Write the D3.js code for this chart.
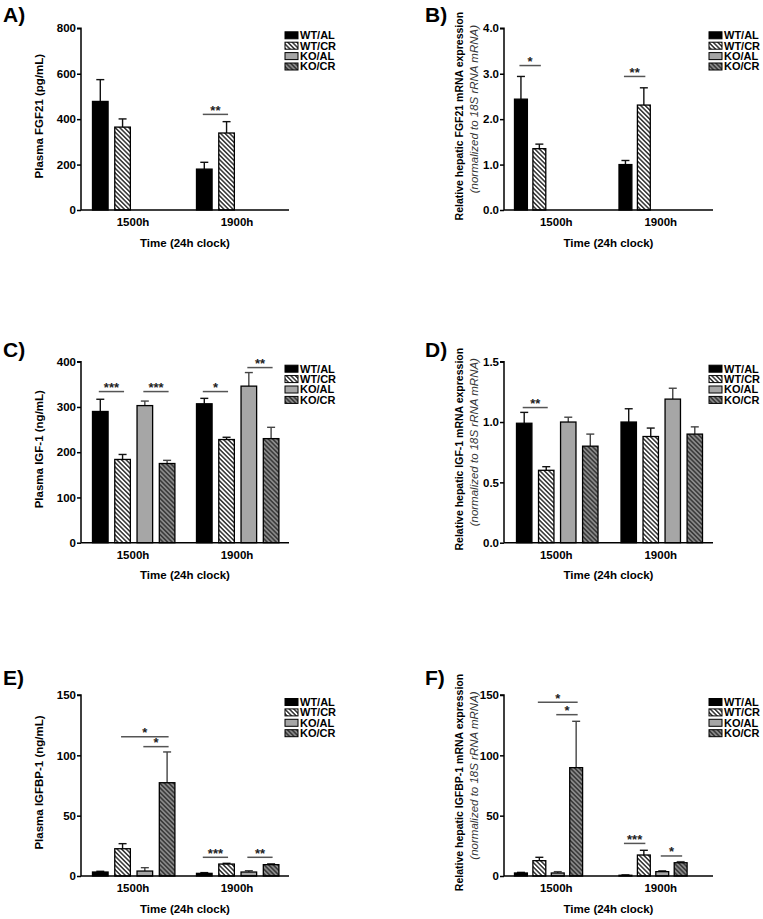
<!DOCTYPE html>
<html><head><meta charset="utf-8">
<script src="https://cdn.jsdelivr.net/npm/d3@7"></script>
<style>body{margin:0;background:#fff} svg text{font-family:"Liberation Sans",Arial,Helvetica,sans-serif}</style>
</head><body><svg id="c" width="763" height="919"></svg>
<script>
const groups = ["1500h", "1900h"];
const series = ["WT/AL", "WT/CR", "KO/AL", "KO/CR"];

// A) Plasma FGF21
const fgf21PlasmaMean = [[478, 365, null, null], [180, 339, null, null]];
const fgf21PlasmaSem  = [[96, 36, null, null], [30, 50, null, null]];
const fgf21PlasmaTicks = [0, 200, 400, 600, 800];
const fgf21PlasmaSig = [[1, 0, 1, 421, "**"]];

// B) Hepatic FGF21 mRNA
const fgf21MrnaMean = [[2.44, 1.35, null, null], [1.00, 2.31, null, null]];
const fgf21MrnaSem  = [[0.50, 0.10, null, null], [0.09, 0.38, null, null]];
const fgf21MrnaTicks = [0, 1, 2, 3, 4];
const fgf21MrnaSig = [[0, 0, 1, 3.18, "*"], [1, 0, 1, 2.94, "**"]];

// C) Plasma IGF-1
const igf1PlasmaMean = [[290, 184, 303, 175], [307, 228, 346, 230]];
const igf1PlasmaSem  = [[27, 11, 10, 7], [12, 5, 30, 25]];
const igf1PlasmaTicks = [0, 100, 200, 300, 400];
const igf1PlasmaSig = [[0, 0, 1, 334, "***"], [0, 2, 3, 334, "***"], [1, 0, 1, 334, "*"], [1, 2, 3, 387, "**"]];

// D) Hepatic IGF-1 mRNA
const igf1MrnaMean = [[0.99, 0.60, 1.00, 0.80], [1.00, 0.88, 1.19, 0.90]];
const igf1MrnaSem  = [[0.09, 0.03, 0.04, 0.10], [0.11, 0.07, 0.09, 0.06]];
const igf1MrnaTicks = [0, 0.5, 1.0, 1.5];
const igf1MrnaSig = [[0, 0, 1, 1.12, "**"]];

// E) Plasma IGFBP-1
const igfbp1PlasmaMean = [[3.3, 22.6, 4.1, 77.3], [2.2, 9.9, 3.3, 9.4]];
const igfbp1PlasmaSem  = [[0.6, 4.2, 2.8, 25.5], [0.6, 0.6, 1.1, 0.8]];
const igfbp1PlasmaTicks = [0, 50, 100, 150];
const igfbp1PlasmaSig = [[0, 1, 3, 115.5, "*"], [0, 2, 3, 107.2, "*"], [1, 0, 1, 15.5, "***"], [1, 2, 3, 15.5, "**"]];

// F) Hepatic IGFBP-1 mRNA
const igfbp1MrnaMean = [[2.5, 12.7, 2.5, 89.8], [0.6, 17.4, 3.6, 11.0]];
const igfbp1MrnaSem  = [[0.5, 2.8, 1.1, 38.4], [0.3, 3.9, 0.8, 0.9]];
const igfbp1MrnaTicks = [0, 50, 100, 150];
const igfbp1MrnaSig = [[0, 1, 3, 144, "*"], [0, 2, 3, 133.7, "*"], [1, 0, 1, 27, "***"], [1, 2, 3, 16.6, "*"]];

const svg = d3.select("#c");
svg.append("rect").attr("width", 763).attr("height", 919).attr("fill", "#fff");

const defs = svg.append("defs");
function hatch(id, bg, fg) {
  const p = defs.append("pattern").attr("id", id).attr("patternUnits", "userSpaceOnUse")
    .attr("width", 3.2).attr("height", 3.2).attr("patternTransform", "rotate(-45)");
  p.append("rect").attr("width", 3.2).attr("height", 3.2).attr("fill", bg);
  p.append("line").attr("x1", 0.8).attr("x2", 0.8).attr("y1", 0).attr("y2", 3.2)
    .attr("stroke", fg).attr("stroke-width", 1.3);
}
hatch("hw", "#fff", "#111");
hatch("hg", "#8a8a8a", "#2a2a2a");
const fills = ["#000", "url(#hw)", "#a6a6a6", "url(#hg)"];

const L = {x0: 81, x1: 289, titleX: 39, legendX: 285, labelX: 3};
const R = {x0: 504, x1: 713, titleX: 459, title2X: 474, legendX: 709, labelX: 425};
const wide = [11.5, 93.9], narrow = [10.5, 78.6];

const panels = [
  {side: L, label: "A)", labelY: 22, top: 28.3, bot: 210, mean: fgf21PlasmaMean, sem: fgf21PlasmaSem, ticks: fgf21PlasmaTicks, fmt: d3.format("d"), sig: fgf21PlasmaSig, title: ["Plasma FGF21 (pg/mL)"], inner: wide},
  {side: R, label: "B)", labelY: 22, top: 28.3, bot: 210, mean: fgf21MrnaMean, sem: fgf21MrnaSem, ticks: fgf21MrnaTicks, fmt: d3.format(".1f"), sig: fgf21MrnaSig, title: ["Relative hepatic FGF21 mRNA expression", "(normalized to 18S rRNA mRNA)"], inner: narrow},
  {side: L, label: "C)", labelY: 357, top: 361.7, bot: 542.7, mean: igf1PlasmaMean, sem: igf1PlasmaSem, ticks: igf1PlasmaTicks, fmt: d3.format("d"), sig: igf1PlasmaSig, title: ["Plasma IGF-1 (ng/mL)"], inner: wide},
  {side: R, label: "D)", labelY: 357, top: 361.7, bot: 542.7, mean: igf1MrnaMean, sem: igf1MrnaSem, ticks: igf1MrnaTicks, fmt: d3.format(".1f"), sig: igf1MrnaSig, title: ["Relative hepatic IGF-1 mRNA expression", "(normalized to 18S rRNA mRNA)"], inner: [12.5, 94]},
  {side: L, label: "E)", labelY: 685, top: 695, bot: 876, mean: igfbp1PlasmaMean, sem: igfbp1PlasmaSem, ticks: igfbp1PlasmaTicks, fmt: d3.format("d"), sig: igfbp1PlasmaSig, title: ["Plasma IGFBP-1 (ng/mL)"], inner: wide},
  {side: R, label: "F)", labelY: 685, top: 695, bot: 876, mean: igfbp1MrnaMean, sem: igfbp1MrnaSem, ticks: igfbp1MrnaTicks, fmt: d3.format("d"), sig: igfbp1MrnaSig, title: ["Relative hepatic IGFBP-1 mRNA expression", "(normalized to 18S rRNA mRNA)"], inner: narrow}
];

panels.forEach(p => {
  const s = p.side;
  const g = svg.append("g");
  const x0 = d3.scaleBand().domain(groups).range([s.x0, s.x1]).padding(0);
  const x1 = d3.scaleBand().domain(series).range(p.inner).paddingInner(0.3).paddingOuter(0);
  const y = d3.scaleLinear().domain([p.ticks[0], p.ticks[p.ticks.length - 1]]).range([p.bot, p.top]);

  g.append("text").attr("x", s.labelX).attr("y", p.labelY).attr("font-size", 21).attr("font-weight", "bold").text(p.label);

  groups.forEach((grp, gi) => {
    series.forEach((ser, si) => {
      const v = p.mean[gi][si];
      if (v == null) return;
      const bx = x0(grp) + x1(ser), bw = x1.bandwidth();
      const e = p.sem[gi][si];
      const cx = bx + bw / 2;
      const col = si >= 2 ? "#444" : "#111";
      g.append("line").attr("x1", cx).attr("x2", cx).attr("y1", y(v)).attr("y2", y(v + e))
        .attr("stroke", col).attr("stroke-width", 1.4);
      g.append("line").attr("x1", cx - 4).attr("x2", cx + 4).attr("y1", y(v + e)).attr("y2", y(v + e))
        .attr("stroke", col).attr("stroke-width", 1.4);
      g.append("rect").attr("x", bx).attr("y", y(v)).attr("width", bw).attr("height", y(0) - y(v))
        .attr("fill", fills[si]).attr("stroke", "#000").attr("stroke-width", 1.3);
    });
  });

  p.sig.forEach(([gi, a, b, lv, txt]) => {
    const xa = x0(groups[gi]) + x1(series[a]) + x1.bandwidth() / 2 - 1.5;
    const xb = x0(groups[gi]) + x1(series[b]) + x1.bandwidth() / 2 + 1.5;
    g.append("line").attr("x1", xa).attr("x2", xb).attr("y1", y(lv)).attr("y2", y(lv))
      .attr("stroke", "#555").attr("stroke-width", 1.5);
    g.append("text").attr("x", (xa + xb) / 2).attr("y", y(lv) + 0.5).attr("text-anchor", "middle")
      .attr("font-size", 13).attr("font-weight", "bold").attr("fill", "#222").text(txt);
  });

  const ya = d3.axisLeft(y).tickValues(p.ticks).tickFormat(p.fmt).tickSize(4).tickPadding(1);
  const yg = g.append("g").attr("transform", `translate(${s.x0},0)`).call(ya);
  yg.select(".domain").attr("stroke", "#000").attr("stroke-width", 1.5).attr("d", `M-4,${p.top}H0V${p.bot}`);
  yg.selectAll(".tick line").attr("stroke", "#000").attr("stroke-width", 1.5);
  yg.selectAll(".tick text").attr("font-size", 11.5).attr("font-weight", "bold").attr("fill", "#000")
    .attr("font-family", '"Liberation Sans",Arial,sans-serif');

  const xa = d3.axisBottom(x0).tickSize(0).tickPadding(8);
  const xg = g.append("g").attr("transform", `translate(0,${p.bot})`).call(xa);
  xg.select(".domain").attr("stroke", "#000").attr("stroke-width", 1.5).attr("d", `M${s.x0},0H${s.x1}`);
  xg.selectAll(".tick text").attr("font-size", 11.5).attr("font-weight", "bold").attr("fill", "#000")
    .attr("font-family", '"Liberation Sans",Arial,sans-serif');

  g.append("text").attr("x", (s.x0 + s.x1) / 2).attr("y", p.bot + 36.5).attr("text-anchor", "middle")
    .attr("font-size", 11.5).attr("font-weight", "bold").text("Time (24h clock)");

  const cy = (p.top + p.bot) / 2;
  g.append("text").attr("transform", `translate(${s.titleX},${cy - 3}) rotate(-90)`).attr("dy", "0.35em")
    .attr("text-anchor", "middle").attr("font-size", p.title.length > 1 ? 10.5 : 11.5).attr("font-weight", "bold").text(p.title[0]);
  if (p.title.length > 1) {
    g.append("text").attr("transform", `translate(${s.title2X},${cy - 10}) rotate(-90)`).attr("dy", "0.35em")
      .attr("text-anchor", "middle").attr("font-size", 11.5).attr("font-style", "italic").attr("fill", "#333").text(p.title[1]);
  }

  series.forEach((ser, si) => {
    const ly = p.top + 7 + si * 10.4;
    g.append("rect").attr("x", s.legendX).attr("y", ly - 3.5).attr("width", 13).attr("height", 7)
      .attr("fill", fills[si]).attr("stroke", "#000").attr("stroke-width", 1);
    g.append("text").attr("x", s.legendX + 15).attr("y", ly).attr("dy", "0.35em")
      .attr("font-size", 11).attr("font-weight", "bold").text(ser);
  });
});
</script></body></html>
